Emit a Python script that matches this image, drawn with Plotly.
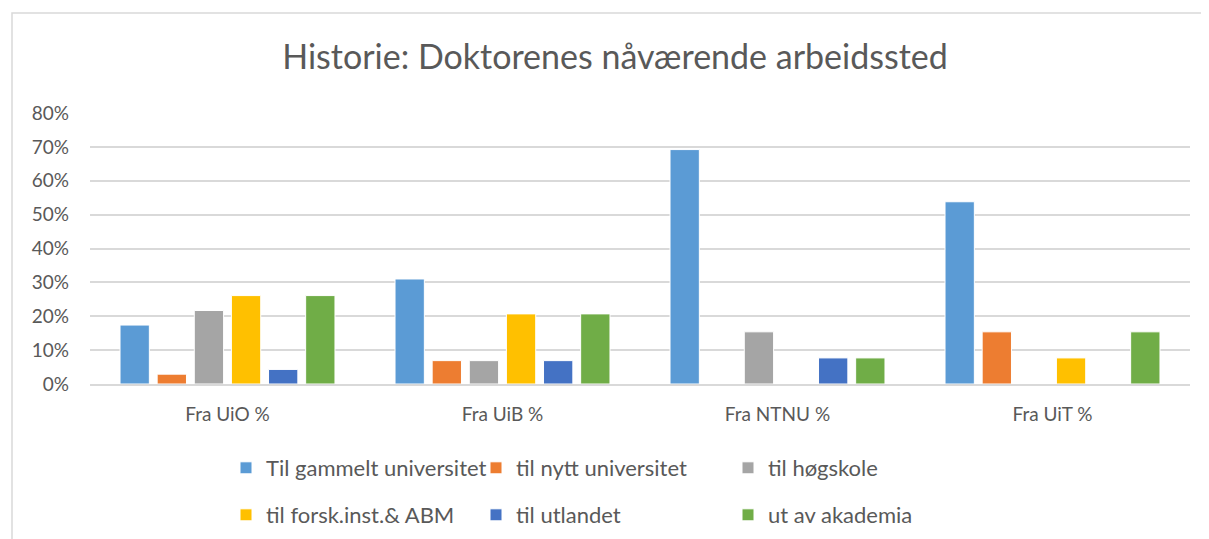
import plotly.graph_objects as go

categories = ["Fra UiO %", "Fra UiB %", "Fra NTNU %", "Fra UiT %"]
series_names = ["Til gammelt universitet", "til nytt universitet", "til høgskole",
                "til forsk.inst.& ABM", "til utlandet", "ut av akademia"]
til_gammelt = [0.174, 0.310, 0.692, 0.538]
til_nytt = [0.029, 0.069, 0.0, 0.154]
til_hogskole = [0.217, 0.069, 0.154, 0.0]
til_forsk = [0.261, 0.207, 0.0, 0.077]
til_utlandet = [0.043, 0.069, 0.077, 0.0]
ut_av = [0.261, 0.207, 0.077, 0.154]
values = [til_gammelt, til_nytt, til_hogskole, til_forsk, til_utlandet, ut_av]
colors = ["#5B9BD5", "#ED7D31", "#A5A5A5", "#FFC000", "#4472C4", "#70AD47"]
legend_ids = ["legend", "legend2", "legend3", "legend4", "legend5", "legend6"]

FONT = "Lato, Open Sans, sans-serif"
TXT = "#595959"

fig = go.Figure()
for name, vals, col, lg in zip(series_names, values, colors, legend_ids):
    fig.add_trace(go.Bar(x=categories, y=vals, name=name, legend=lg,
                         marker=dict(color=col, line=dict(color="white", width=1))))

# page body has an 8px margin: figure is sized so page = window, fig coords = screen - 8
W, H = 1201, 531
L, R, T, B = 82, 19, 105, 155
pw = W - L - R
ph = H - T - B

def px2x(px):
    return (px - L) / pw

def py2y(py):
    return (H - B - py) / ph

legend_common = dict(orientation="v", yanchor="middle", xanchor="left",
                     font=dict(family=FONT, size=22, color=TXT),
                     bgcolor="rgba(0,0,0,0)", itemwidth=30, tracegroupgap=0)

col_x = [218, 468, 720]
row_y = [460, 507]
legend_layout = {}
for i, lg in enumerate(legend_ids):
    legend_layout[lg] = dict(x=px2x(col_x[i % 3]), y=py2y(row_y[i // 3]), **legend_common)

fig.update_layout(
    width=W, height=H,
    margin=dict(l=L, r=R, t=T, b=B, autoexpand=False),
    paper_bgcolor="white", plot_bgcolor="white",
    title=dict(text="Historie: Doktorenes nåværende arbeidssted", x=607 / W, xanchor="center",
               xref="container", y=1 - 49 / H, yanchor="middle", yref="container",
               font=dict(family=FONT, size=34, color=TXT)),
    barmode="group", bargap=0.19, bargroupgap=0.21,
    font=dict(family=FONT, color=TXT),
    yaxis=dict(range=[0, 0.8], dtick=0.1, tickformat=".0%", showgrid=True,
               gridcolor="#D9D9D9", gridwidth=1.5, zeroline=False,
               tickfont=dict(family=FONT, size=19, color=TXT), showline=False,
               ticks="", ticklabelstandoff=20),
    xaxis=dict(showline=True, linecolor="#D9D9D9", linewidth=1.5,
               tickfont=dict(family=FONT, size=19, color=TXT), ticks="",
               ticklabelstandoff=12),
    showlegend=True,
    **legend_layout,
)

fig.add_shape(type="rect", xref="paper", yref="paper",
              x0=px2x(4), x1=px2x(1230), y0=py2y(560), y1=py2y(5),
              line=dict(color="#D9D9D9", width=1.5), fillcolor="rgba(0,0,0,0)",
              layer="below")

fig.write_html("out.html")
